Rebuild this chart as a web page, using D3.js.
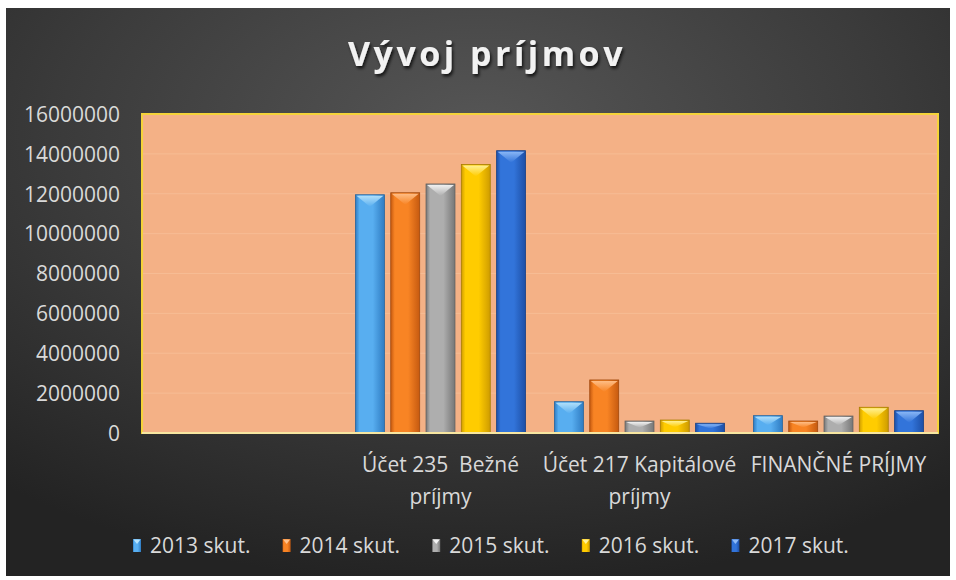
<!DOCTYPE html>
<html>
<head>
<meta charset="utf-8">
<script src="https://cdn.jsdelivr.net/npm/d3@7.9.0/dist/d3.min.js"></script>
<style>
  html, body { margin: 0; padding: 0; background: #ffffff; }
  svg { display: block; }
  text { font-family: 'Open Sans', sans-serif; white-space: pre; }
</style>
</head>
<body>
<svg id="chart" width="956" height="580"></svg>
<script>
/*
 * -----------------------------------------------------
 * 0. Data
 * -----------------------------------------------------
 */
const categories = ['', 'Účet 235  Bežné príjmy', 'Účet 217 Kapitálové príjmy', 'FINANČNÉ PRÍJMY'];
// wrapped axis labels (Excel wraps them to two lines)
const categoryLines = [[], ['Účet 235  Bežné', 'príjmy'], ['Účet 217 Kapitálové', 'príjmy'], ['FINANČNÉ PRÍJMY']];
const seriesNames = ['2013 skut.', '2014 skut.', '2015 skut.', '2016 skut.', '2017 skut.'];
const values2013 = [null, 11950000, 1570000, 870000];
const values2014 = [null, 12050000, 2660000, 600000];
const values2015 = [null, 12490000, 600000, 850000];
const values2016 = [null, 13470000, 650000, 1290000];
const values2017 = [null, 14160000, 490000, 1120000];
const yTicks = [0, 2000000, 4000000, 6000000, 8000000, 10000000, 12000000, 14000000, 16000000];

const allValues = [values2013, values2014, values2015, values2016, values2017];

// colours per series: [edge, body, highlight]
const palette = [
  ['#2f7cc2', '#58aef0', '#b5e2fb'],
  ['#c65a10', '#f88424', '#ffc08a'],
  ['#777777', '#aeaeae', '#f4f4f4'],
  ['#cf9c00', '#ffcc00', '#fff29a'],
  ['#1d4fa6', '#3274da', '#8ebaf7'],
];

/*
 * -----------------------------------------------------
 * 1. Layout
 * -----------------------------------------------------
 */
const W = 956, H = 580;
const plot = { left: 142, top: 114, right: 938, bottom: 433 };

const svg = d3.select('#chart');
const defs = svg.append('defs');

// background radial gradient
const bg = defs.append('radialGradient')
  .attr('id', 'bg')
  .attr('cx', '50%').attr('cy', '22%').attr('r', '80%')
  .attr('fx', '50%').attr('fy', '22%');
bg.append('stop').attr('offset', '0%').attr('stop-color', '#565656');
bg.append('stop').attr('offset', '55%').attr('stop-color', '#3b3b3b');
bg.append('stop').attr('offset', '100%').attr('stop-color', '#232323');

const shadow = defs.append('filter').attr('id', 'shadow')
  .attr('x', '-10%').attr('y', '-20%').attr('width', '120%').attr('height', '150%');
shadow.append('feDropShadow')
  .attr('dx', 1.5).attr('dy', 2.5).attr('stdDeviation', 1.8)
  .attr('flood-color', '#000').attr('flood-opacity', 0.75);

// per series gradients (body: dark edges, light middle)
palette.forEach(([edge, body, hi], i) => {
  const g = defs.append('linearGradient').attr('id', `body${i}`)
    .attr('x1', '0%').attr('x2', '100%').attr('y1', '0%').attr('y2', '0%');
  g.append('stop').attr('offset', '0%').attr('stop-color', edge);
  g.append('stop').attr('offset', '14%').attr('stop-color', body);
  g.append('stop').attr('offset', '60%').attr('stop-color', body);
  g.append('stop').attr('offset', '100%').attr('stop-color', edge);

  const t = defs.append('linearGradient').attr('id', `top${i}`)
    .attr('x1', '0%').attr('x2', '0%').attr('y1', '0%').attr('y2', '100%');
  t.append('stop').attr('offset', '0%').attr('stop-color', hi);
  t.append('stop').attr('offset', '100%').attr('stop-color', body);
});

svg.append('rect')
  .attr('x', 6).attr('y', 8)
  .attr('width', W - 12).attr('height', H - 12)
  .attr('fill', 'url(#bg)');

/*
 * -----------------------------------------------------
 * 2. Scales
 * -----------------------------------------------------
 */
const x0 = d3.scaleBand()
  .domain(categories)
  .range([plot.left, plot.right])
  .padding(0);

const x1 = d3.scaleBand()
  .domain(seriesNames)
  .range([0, x0.bandwidth()])
  .paddingInner(0.18)
  .paddingOuter(0.41);

const y = d3.scaleLinear()
  .domain([0, 16000000])
  .range([plot.bottom, plot.top]);

/*
 * -----------------------------------------------------
 * 3. Plot area + grid
 * -----------------------------------------------------
 */
svg.append('rect')
  .attr('x', plot.left).attr('y', plot.top)
  .attr('width', plot.right - plot.left)
  .attr('height', plot.bottom - plot.top)
  .attr('fill', '#f4b186');

svg.append('g')
  .selectAll('line')
  .data(yTicks.slice(1, -1))
  .join('line')
  .attr('x1', plot.left).attr('x2', plot.right)
  .attr('y1', d => y(d)).attr('y2', d => y(d))
  .attr('stroke', '#f6bc94')
  .attr('stroke-width', 1);

/*
 * -----------------------------------------------------
 * 4. Bars
 * -----------------------------------------------------
 */
const barData = [];
categories.forEach((cat, ci) => {
  seriesNames.forEach((s, si) => {
    const v = allValues[si][ci];
    if (v != null) barData.push({ cat, s, si, v });
  });
});

const bars = svg.append('g')
  .selectAll('g')
  .data(barData)
  .join('g')
  .attr('transform', d => `translate(${x0(d.cat) + x1(d.s)},0)`);

bars.append('rect')
  .attr('x', 0)
  .attr('y', d => y(d.v))
  .attr('width', x1.bandwidth())
  .attr('height', d => y(0) - y(d.v))
  .attr('fill', d => `url(#body${d.si})`)
  .attr('stroke', d => d3.color(palette[d.si][0]).darker(0.6))
  .attr('stroke-width', 0.8);

// bevelled top: light triangle pointing down
bars.append('path')
  .attr('d', d => {
    const w = x1.bandwidth();
    const top = y(d.v);
    const depth = Math.min(12, (y(0) - top) * 0.55);
    return `M1,${top + 1} L${w - 1},${top + 1} L${w / 2},${top + depth} Z`;
  })
  .attr('fill', d => `url(#top${d.si})`)
  .attr('opacity', 0.95);

/*
 * -----------------------------------------------------
 * 5. Border + axes
 * -----------------------------------------------------
 */
svg.append('rect')
  .attr('x', plot.left).attr('y', plot.top)
  .attr('width', plot.right - plot.left)
  .attr('height', plot.bottom - plot.top)
  .attr('fill', 'none')
  .attr('stroke', '#f5d33a')
  .attr('stroke-width', 2);

svg.append('line')
  .attr('x1', plot.left).attr('x2', plot.right)
  .attr('y1', plot.bottom).attr('y2', plot.bottom)
  .attr('stroke', '#f7e6a0')
  .attr('stroke-width', 2);

const yAxis = svg.append('g')
  .attr('transform', `translate(${plot.left},0)`)
  .call(d3.axisLeft(y).tickValues(yTicks).tickSize(0).tickPadding(22).tickFormat(d3.format('d')));
yAxis.select('.domain').remove();
yAxis.selectAll('text')
  .attr('fill', '#d9d9d9')
  .style('font-family', "'Open Sans', sans-serif")
  .style('font-size', '21px')
  .attr('dy', '0.35em');

const xAxis = svg.append('g')
  .attr('transform', `translate(0,${plot.bottom})`)
  .call(d3.axisBottom(x0).tickSize(0).tickFormat(''));
xAxis.select('.domain').remove();

xAxis.selectAll('.tick')
  .append('text')
  .attr('fill', '#d9d9d9')
  .attr('text-anchor', 'middle')
  .style('font-family', "'Open Sans', sans-serif")
  .style('font-size', '21px')
  .each(function (d, i) {
    d3.select(this).selectAll('tspan')
      .data(categoryLines[i])
      .join('tspan')
      .attr('x', 0)
      .attr('y', (_l, li) => 39 + li * 32)
      .text(l => l);
  });

/*
 * -----------------------------------------------------
 * 6. Title + legend
 * -----------------------------------------------------
 */
svg.append('text')
  .attr('x', 487).attr('y', 66)
  .attr('text-anchor', 'middle')
  .attr('fill', '#f2f2f2')
  .attr('filter', 'url(#shadow)')
  .style('font-family', "'Open Sans', sans-serif")
  .style('font-weight', 700)
  .style('font-size', '34px')
  .style('letter-spacing', '3.5px')
  .text('Vývoj príjmov');

const legend = svg.append('g')
  .selectAll('g')
  .data(seriesNames)
  .join('g')
  .attr('transform', (_d, i) => `translate(${133 + i * 149.6},539)`);

legend.append('rect')
  .attr('width', 8).attr('height', 13)
  .attr('fill', (_d, i) => `url(#body${i})`);
legend.append('path')
  .attr('d', 'M0.5,0.5 L7.5,0.5 L4,5 Z')
  .attr('fill', (_d, i) => palette[i][2]);

legend.append('text')
  .attr('x', 17).attr('y', 14)
  .attr('fill', '#d9d9d9')
  .style('font-family', "'Open Sans', sans-serif")
  .style('font-size', '21px')
  .text(d => d);
</script>
</body>
</html>
